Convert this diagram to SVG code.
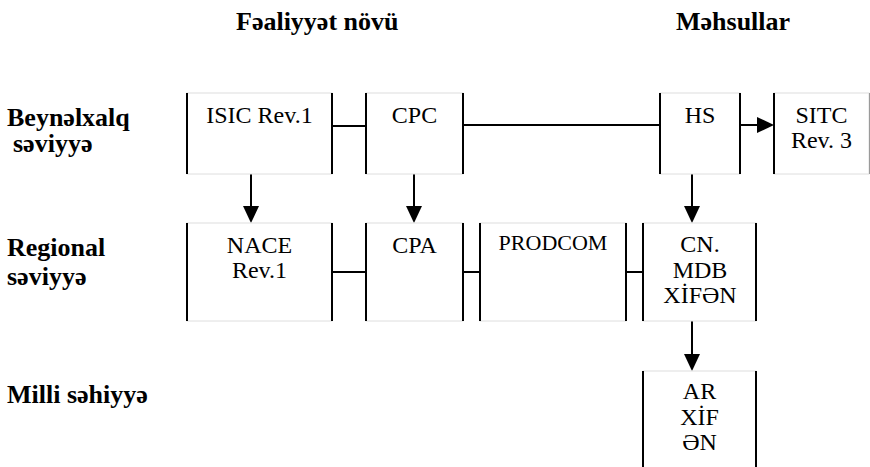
<svg xmlns="http://www.w3.org/2000/svg" width="870" height="467" viewBox="0 0 870 467">
<style>
  .bg { fill: #ffffff; }
  .box { fill: #ffffff; stroke: #dedede; stroke-width: 1; }
  .side { stroke: #000000; stroke-width: 2; }
  .conn { stroke: #000000; stroke-width: 2; fill: none; }
  .t { font-size: 24px; fill: #000; text-anchor: middle; }
  .lbl { font-size: 26px; font-weight: bold; fill: #000; }
</style>
<defs>
  <marker id="ah" markerUnits="userSpaceOnUse" markerWidth="17" markerHeight="16" refX="0" refY="8" orient="auto">
    <path d="M0,0 L17,8 L0,16 Z" fill="#000"/>
  </marker>
</defs>
<rect class="bg" x="0" y="0" width="870" height="467"/>

<g id="labels" font-family="Liberation Serif, DejaVu Serif, serif">
  <text class="lbl" x="236" y="30">Fəaliyyət növü</text>
  <text class="lbl" x="676" y="30">Məhsullar</text>
  <text class="lbl" x="7" y="126">Beynəlxalq</text>
  <text class="lbl" x="13" y="152">səviyyə</text>
  <text class="lbl" x="7" y="256">Regional</text>
  <text class="lbl" x="7" y="285">səviyyə</text>
  <text class="lbl" x="7" y="403">Milli səhiyyə</text>
</g>

<g id="connectors">
  <line class="conn" x1="332" y1="126" x2="366" y2="126"/>
  <line class="conn" x1="463" y1="125" x2="660" y2="125"/>
  <line class="conn" x1="740" y1="125" x2="757" y2="125" marker-end="url(#ah)"/>
  <line class="conn" x1="251" y1="174" x2="251" y2="206" marker-end="url(#ah)"/>
  <line class="conn" x1="414" y1="174" x2="414" y2="206" marker-end="url(#ah)"/>
  <line class="conn" x1="692" y1="174" x2="692" y2="206" marker-end="url(#ah)"/>
  <line class="conn" x1="332" y1="272" x2="366" y2="272"/>
  <line class="conn" x1="463" y1="272" x2="480" y2="272"/>
  <line class="conn" x1="626" y1="272" x2="643" y2="272"/>
  <line class="conn" x1="692" y1="321" x2="692" y2="354" marker-end="url(#ah)"/>
</g>

<g id="nodes" font-family="Liberation Serif, Times New Roman, serif">
<g id="isic">
  <rect class="box" x="187" y="93" width="145" height="81"/>
  <line class="side" x1="187" y1="93" x2="187" y2="174"/>
  <line class="side" x1="332" y1="93" x2="332" y2="174"/>
  <text class="t" x="259.5" y="123">ISIC Rev.1</text>
</g>
<g id="cpc">
  <rect class="box" x="366" y="93" width="97" height="81"/>
  <line class="side" x1="366" y1="93" x2="366" y2="174"/>
  <line class="side" x1="463" y1="93" x2="463" y2="174"/>
  <text class="t" x="414.5" y="123">CPC</text>
</g>
<g id="hs">
  <rect class="box" x="660" y="93" width="80" height="81"/>
  <line class="side" x1="660" y1="93" x2="660" y2="174"/>
  <line class="side" x1="740" y1="93" x2="740" y2="174"/>
  <text class="t" x="700" y="123">HS</text>
</g>
<g id="sitc">
  <rect class="box" x="774" y="93" width="95" height="81"/>
  <line class="side" x1="774" y1="93" x2="774" y2="174"/>
  <line x1="869.5" y1="93" x2="869.5" y2="174" stroke="#9a9a9a" stroke-width="1"/>
  <text class="t" x="821.5" y="123">SITC</text>
  <text class="t" x="821.5" y="148">Rev. 3</text>
</g>

<g id="nace">
  <rect class="box" x="187" y="223" width="145" height="98"/>
  <line class="side" x1="187" y1="223" x2="187" y2="321"/>
  <line class="side" x1="332" y1="223" x2="332" y2="321"/>
  <text class="t" x="259.5" y="253">NACE</text>
  <text class="t" x="259.5" y="278">Rev.1</text>
</g>
<g id="cpa">
  <rect class="box" x="366" y="223" width="97" height="98"/>
  <line class="side" x1="366" y1="223" x2="366" y2="321"/>
  <line class="side" x1="463" y1="223" x2="463" y2="321"/>
  <text class="t" x="414.5" y="253">CPA</text>
</g>
<g id="prodcom">
  <rect class="box" x="480" y="223" width="146" height="98"/>
  <line class="side" x1="480" y1="223" x2="480" y2="321"/>
  <line class="side" x1="626" y1="223" x2="626" y2="321"/>
  <text class="t" x="553" y="250" style="font-size:22px">PRODCOM</text>
</g>
<g id="cn">
  <rect class="box" x="643" y="223" width="113" height="98"/>
  <line class="side" x1="643" y1="223" x2="643" y2="321"/>
  <line class="side" x1="756" y1="223" x2="756" y2="321"/>
  <text class="t" x="700" y="252">CN.</text>
  <text class="t" x="700" y="278">MDB</text>
  <text class="t" x="700" y="303">XİFƏN</text>
</g>

<g id="ar">
  <rect class="box" x="643" y="371" width="113" height="100"/>
  <line class="side" x1="643" y1="371" x2="643" y2="467"/>
  <line class="side" x1="756" y1="371" x2="756" y2="467"/>
  <text class="t" x="699.5" y="399">AR</text>
  <text class="t" x="699.5" y="425">XİF</text>
  <text class="t" x="699.5" y="450">ƏN</text>
</g>
</g>
</svg>
